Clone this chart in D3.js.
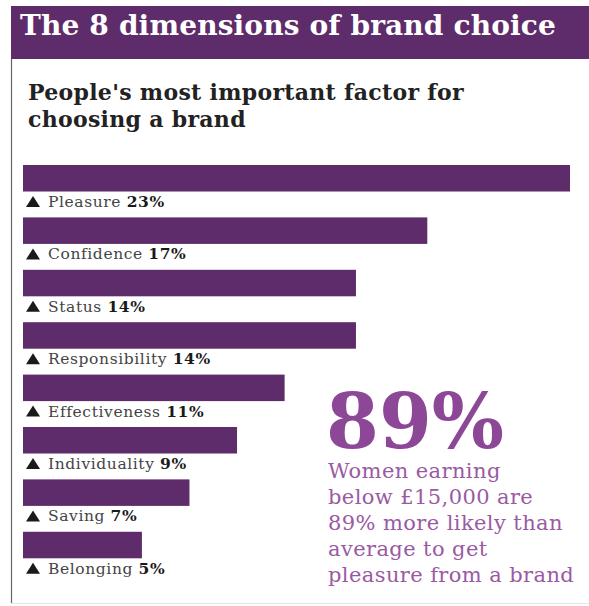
<!DOCTYPE html>
<html>
<head>
<meta charset="utf-8">
<script src="https://cdn.jsdelivr.net/npm/d3@7"></script>
<style>
  body { margin: 0; background: #fff; }
</style>
</head>
<body>
<div id="viz"></div>
<script>
const width = 589;
const height = 606;

// Chart data
const categories = ["Pleasure", "Confidence", "Status", "Responsibility",
  "Effectiveness", "Individuality", "Saving", "Belonging"];
const values = [23, 17, 14, 14, 11, 9, 7, 5];
const calloutLines = ["Women earning", "below £15,000 are", "89% more likely than",
  "average to get", "pleasure from a brand"];

const purple = "#5f2c6b";
const serif = "'DejaVu Serif', serif";

const svg = d3.select("#viz")
  .append("svg")
  .attr("width", width)
  .attr("height", height);

// Frame: left rule and faint bottom rule
svg.append("line")
  .attr("x1", 11.5).attr("x2", 11.5)
  .attr("y1", 59).attr("y2", 603)
  .attr("stroke", "#666")
  .attr("stroke-width", 1.2);

svg.append("line")
  .attr("x1", 11).attr("x2", width)
  .attr("y1", 603.5).attr("y2", 603.5)
  .attr("stroke", "#e4e4e4")
  .attr("stroke-width", 1);

// Header band
svg.append("rect")
  .attr("x", 11)
  .attr("y", 6)
  .attr("width", width - 11)
  .attr("height", 53)
  .attr("fill", purple);

svg.append("text")
  .attr("x", 20)
  .attr("y", 35)
  .attr("font-family", serif)
  .attr("font-size", "28px")
  .attr("font-weight", "bold")
  .attr("letter-spacing", "0.15px")
  .attr("fill", "#fff")
  .text("The 8 dimensions of brand choice");

// Subtitle
const subtitle = svg.append("text")
  .attr("font-family", serif)
  .attr("font-size", "22px")
  .attr("font-weight", "bold")
  .attr("letter-spacing", "0.3px")
  .attr("fill", "#222");

subtitle.append("tspan").attr("x", 28).attr("y", 100)
  .text("People's most important factor for");
subtitle.append("tspan").attr("x", 28).attr("y", 127)
  .text("choosing a brand");

// Scales
const x = d3.scaleLinear()
  .domain([0, d3.max(values)])
  .range([23, 570]);

const y = d3.scaleBand()
  .domain(categories)
  .range([165, 558.3])
  .paddingInner(0.494)
  .paddingOuter(0)
  .align(0);

const rows = categories.map((c, i) => ({ name: c, value: values[i] }));

svg.selectAll("rect.bar")
  .data(rows)
  .join("rect")
  .attr("class", "bar")
  .attr("x", x(0))
  .attr("y", d => y(d.name))
  .attr("width", d => x(d.value) - x(0))
  .attr("height", y.bandwidth())
  .attr("fill", purple);

// Labels under each bar
const labels = svg.selectAll("g.label")
  .data(rows)
  .join("g")
  .attr("class", "label")
  .attr("transform", d => `translate(0,${y(d.name) + 42})`);

labels.append("path")
  .attr("d", "M26,0 L40,0 L33,-11 Z")
  .attr("fill", "#1a1a1a");

const lt = labels.append("text")
  .attr("x", 48)
  .attr("y", 0)
  .attr("font-family", serif)
  .attr("font-size", "15.5px")
  .attr("letter-spacing", "0.6px");

lt.append("tspan")
  .attr("fill", "#444")
  .text(d => d.name + " ");
lt.append("tspan")
  .attr("fill", "#1a1a1a")
  .attr("font-weight", "bold")
  .text(d => d.value + "%");

// Callout
svg.append("text")
  .attr("x", 326)
  .attr("y", 448)
  .attr("font-family", serif)
  .attr("font-size", "76px")
  .attr("font-weight", "bold")
  .attr("fill", "#8c4896")
  .text("89%");

svg.append("text")
  .attr("font-family", serif)
  .attr("font-size", "21px")
  .attr("letter-spacing", "0.4px")
  .attr("fill", "#9a5aa2")
  .selectAll("tspan")
  .data(calloutLines)
  .join("tspan")
  .attr("x", 328)
  .attr("y", (d, i) => 478 + i * 26)
  .text(d => d);
</script>
</body>
</html>
